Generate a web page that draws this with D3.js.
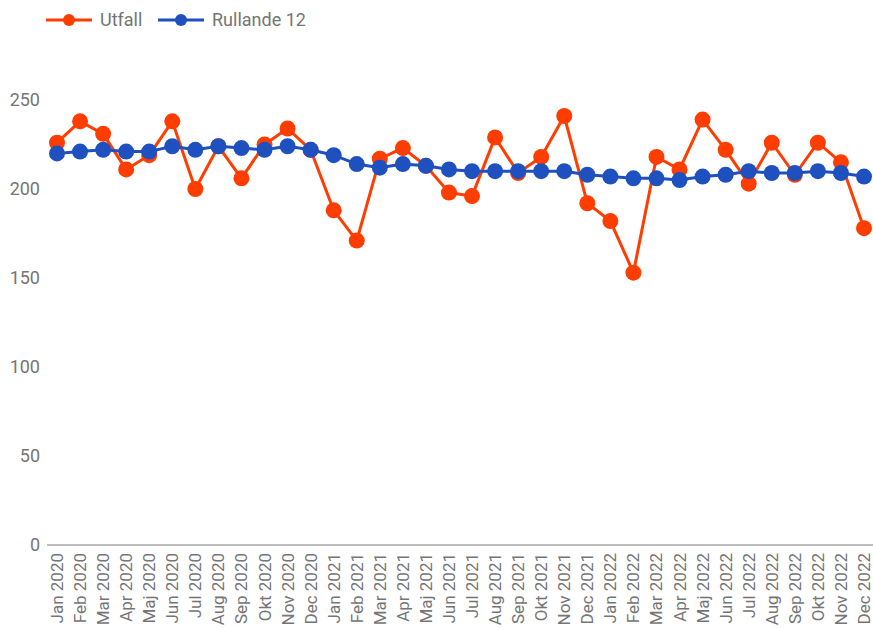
<!DOCTYPE html>
<html>
<head>
<meta charset="utf-8">
<script src="https://cdn.jsdelivr.net/npm/d3@7"></script>
<style>
  body { margin: 0; background: #fff; }
  text { font-family: Roboto, "Noto Sans", sans-serif; }
</style>
</head>
<body>
<svg width="873" height="628"></svg>
<script>
var months = ["Jan 2020","Feb 2020","Mar 2020","Apr 2020","Maj 2020","Jun 2020","Jul 2020","Aug 2020","Sep 2020","Okt 2020","Nov 2020","Dec 2020",
              "Jan 2021","Feb 2021","Mar 2021","Apr 2021","Maj 2021","Jun 2021","Jul 2021","Aug 2021","Sep 2021","Okt 2021","Nov 2021","Dec 2021",
              "Jan 2022","Feb 2022","Mar 2022","Apr 2022","Maj 2022","Jun 2022","Jul 2022","Aug 2022","Sep 2022","Okt 2022","Nov 2022","Dec 2022"];
var utfall = [226,238,231,211,219,238,200,224,206,225,234,222,
              188,171,217,223,213,198,196,229,209,218,241,192,
              182,153,218,211,239,222,203,226,208,226,215,178];
var rullande = [220,221,222,221,221,224,222,224,223,222,224,222,
                219,214,212,214,213,211,210,210,210,210,210,208,
                207,206,206,205,207,208,210,209,209,210,209,207];
var yTicks = [0,50,100,150,200,250];
var seriesNames = ["Utfall","Rullande 12"];
var colors = ["#ff3d00","#1e50c0"];

var svg = d3.select("svg");

var x = d3.scalePoint()
    .domain(months)
    .range([57, 864]);
var y = d3.scaleLinear()
    .domain([0, 250])
    .range([545, 100]);

// y labels
svg.append("g").selectAll("text")
    .data(yTicks)
    .enter().append("text")
    .attr("x", 40)
    .attr("y", function(d) { return y(d); })
    .attr("dy", "0.35em")
    .attr("text-anchor", "end")
    .attr("fill", "#757575")
    .attr("font-size", 18)
    .text(function(d) { return d; });

// baseline
svg.append("line")
    .attr("x1", 47).attr("x2", 873)
    .attr("y1", y(0)).attr("y2", y(0))
    .attr("stroke", "#bdbdbd")
    .attr("stroke-width", 2);

// x labels rotated
svg.append("g").selectAll("text")
    .data(months)
    .enter().append("text")
    .attr("transform", function(d) { return "translate(" + (x(d) + 6) + ",553) rotate(-90)"; })
    .attr("text-anchor", "end")
    .attr("fill", "#757575")
    .attr("font-size", 17)
    .text(function(d) { return d; });

var line = d3.line()
    .x(function(d, i) { return x(months[i]); })
    .y(function(d) { return y(d); });

[utfall, rullande].forEach(function(vals, s) {
    var g = svg.append("g");
    g.append("path")
        .datum(vals)
        .attr("d", line)
        .attr("fill", "none")
        .attr("stroke", colors[s])
        .attr("stroke-width", 3);
    g.selectAll("circle")
        .data(vals)
        .enter().append("circle")
        .attr("cx", function(d, i) { return x(months[i]); })
        .attr("cy", function(d) { return y(d); })
        .attr("r", 8)
        .attr("fill", colors[s]);
});

// legend
var legendX = [46, 158];
seriesNames.forEach(function(name, s) {
    var lg = svg.append("g").attr("transform", "translate(" + legendX[s] + ",20)");
    lg.append("line")
        .attr("x1", 0).attr("x2", 46)
        .attr("stroke", colors[s]).attr("stroke-width", 3);
    lg.append("circle").attr("cx", 23).attr("r", 6).attr("fill", colors[s]);
    lg.append("text")
        .attr("x", 54)
        .attr("dy", "0.35em")
        .attr("fill", "#757575")
        .attr("font-size", 18)
        .text(name);
});
</script>
</body>
</html>
